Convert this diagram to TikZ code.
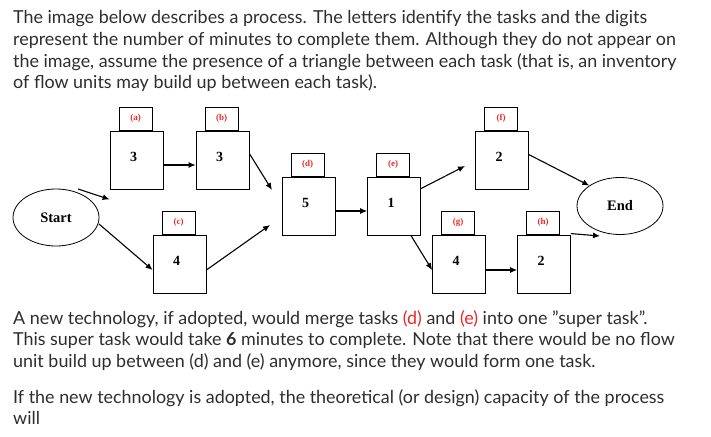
\documentclass[tikz,border=0pt]{standalone}
\usepackage{fontspec}
\usetikzlibrary{shapes.geometric,arrows.meta}
\setmainfont{Lato}
\newfontfamily\tnr{Liberation Serif}
\definecolor{tabred}{RGB}{235,40,40}
\definecolor{txtgray}{RGB}{45,45,45}
\begin{document}
\begin{tikzpicture}[x=1pt,y=-1pt,
  line/.style={anchor=base west,inner sep=0pt,font=\fontsize{17.9}{20}\selectfont,text=txtgray},
  taskbox/.style={draw,line width=0.8pt,minimum width=53pt,minimum height=58pt,inner sep=0pt},
  tabbox/.style={draw,line width=0.8pt,minimum width=33pt,minimum height=23pt,inner sep=0pt,font=\tnr\bfseries\fontsize{9}{10}\selectfont,text=tabred},
  num/.style={font=\tnr\bfseries\fontsize{14}{16}\selectfont},
  oval/.style={draw,ellipse,line width=0.8pt,minimum width=86pt,minimum height=57pt,inner sep=0pt,font=\tnr\bfseries\fontsize{14.5}{16}\selectfont},
  arr/.style={-{Latex[length=7pt,width=6pt]},line width=1.1pt}]
\useasboundingbox (0,0) rectangle (711,436);
\node[line] (t1) at (13,24) {The image below describes a process. The letters identify the tasks and the digits};
\node[line] (t2) at (13,45.5) {represent the number of minutes to complete them. Although they do not appear on};
\node[line] (t3) at (13,67) {the image, assume the presence of a triangle between each task (that is, an inventory};
\node[line] (t4) at (13,88.5) {of flow units may build up between each task).};
\node[line] (b1) at (13,324) {A new technology, if adopted, would merge tasks {\color{tabred}(d)} and {\color{tabred}(e)} into one \symbol{34}super task\symbol{34}.};
\node[line] (b2) at (13,345.5) {This super task would take \textbf{6} minutes to complete. Note that there would be no flow};
\node[line] (b3) at (13,367) {unit build up between (d) and (e) anymore, since they would form one task.};
\node[line] (b4) at (13,403) {If the new technology is adopted, the theoretical (or design) capacity of the process};
\node[line] (b5) at (13,424.5) {will};
% tasks
\foreach \n/\x/\y/\v/\l in {a/136.5/160/3/(a), b/222.5/160/3/(b), d/308.5/206/5/(d), c/179.5/264/4/(c), e/394/206/1/(e), f/502/160/2/(f), g/459/264/4/(g), h/544/264/2/(h)}{
  \node[taskbox] (\n) at (\x,\y) {};
  \node[num] (\n num) at (\x-3,\y-3) {\v};
  \node[tabbox,anchor=south] (\n tab) at ([xshift=-1pt]\n.north) {\l};
}
\node[oval] (start) at (56,217.5) {Start};
\node[oval] (end) at (620,206) {End};
\coordinate (s1) at (78,189);
\coordinate (s2) at (99,224);
\coordinate (bfree) at (272,190);
\coordinate (cfree) at (270,225);
\coordinate (efree) at (465,166);
\coordinate (hfree) at (600,236);
\draw[arr] (s1) -- ([yshift=-10pt]a.south west);
\draw[arr] ([yshift=-5pt]a.east) -- ([yshift=-5pt]b.west);
\draw[arr] ([yshift=-23pt]b.north east) -- (bfree);
\draw[arr] (s2) -- ([yshift=-6pt]c.west);
\draw[arr] ([yshift=-6pt]c.east) -- (cfree);
\draw[arr] ([yshift=-5pt]d.east) -- ([yshift=-5pt]e.west);
\draw[arr] ([yshift=-12pt]e.north east) -- (efree);
\draw[arr] ([xshift=-10pt]e.south east) -- ([yshift=-6pt]g.west);
\draw[arr] ([yshift=-6pt]g.east) -- ([yshift=-6pt]h.west);
\draw[arr] ([yshift=-24pt]f.north east) -- (end.north west);
\draw[arr] ([yshift=1pt]h.north east) -- (hfree);
\end{tikzpicture}
\end{document}
